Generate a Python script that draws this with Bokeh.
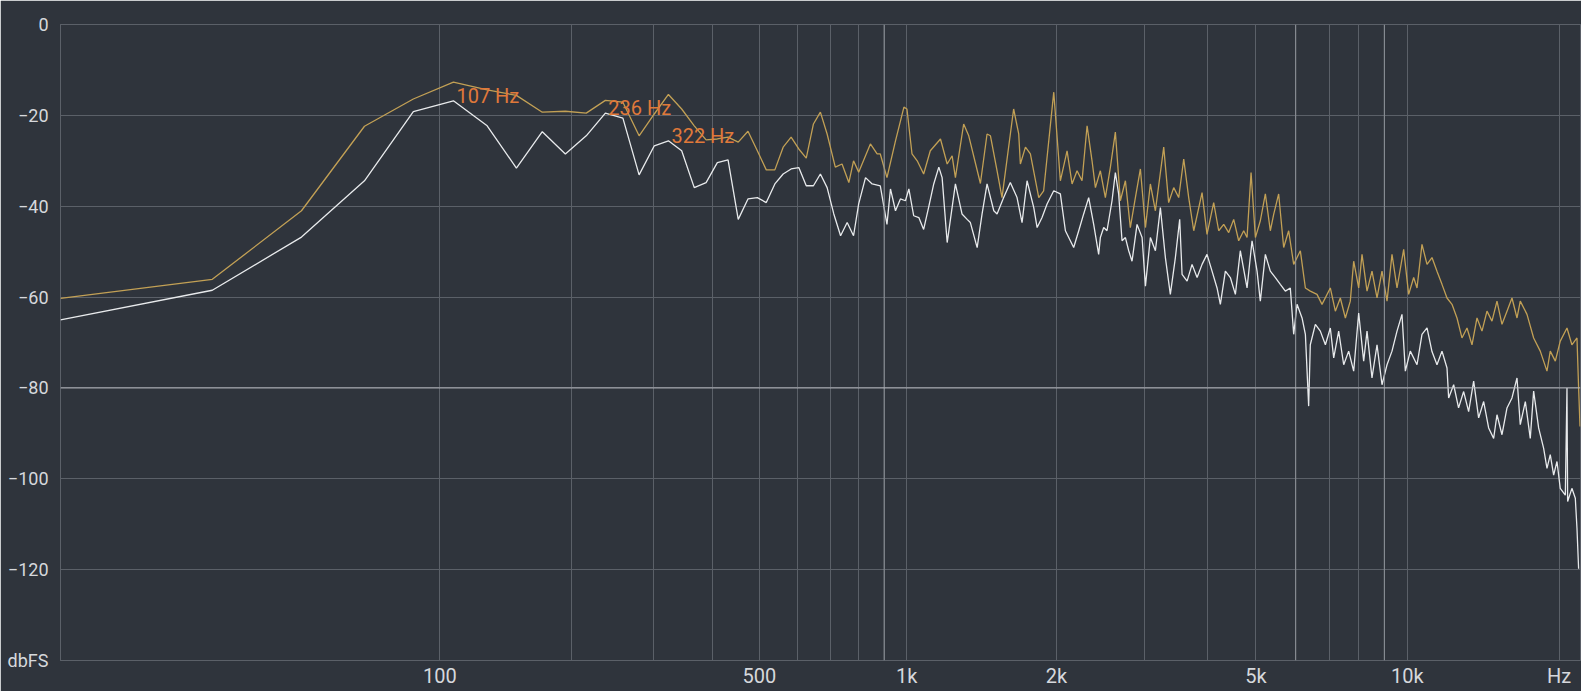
import numpy as np
from bokeh.plotting import figure
from bokeh.models import FixedTicker, CustomJSTickFormatter, Span, Range1d
from bokeh.core.properties import value
from bokeh.embed import file_html
from bokeh.resources import INLINE

# FFT bin width of the analyser (44.1 kHz, 2048-point FFT)
SAMPLE_RATE = 44100
FFT_SIZE = 2048
BIN_HZ = SAMPLE_RATE / FFT_SIZE
NYQUIST = SAMPLE_RATE / 2

# ---------------- data (Hz, dBFS) ----------------
gold_hz = [0, 21.5, 43.1, 64.6, 86.1, 107.7, 129.2, 150.7, 172.3, 193.8, 215.3, 236.9,
           258.4, 279.9, 301.5, 323.0, 344.5, 366.1, 387.6, 409.1, 430.7, 452.2, 473.7,
           495.3, 516.8, 538.3, 559.9, 581.4, 602.9, 624.5, 646.0, 667.5,
           689, 716, 739, 763, 780, 799, 844, 871, 884, 912, 949, 987, 1001, 1025, 1050,
           1082, 1116, 1170, 1207, 1235, 1254, 1303, 1334, 1408, 1452, 1475, 1521, 1556,
           1642, 1681, 1694, 1734, 1774, 1844, 1886, 1976, 2037, 2101, 2150, 2200, 2251,
           2304, 2357, 2394,
           2449, 2506, 2564, 2624, 2685, 2748, 2811, 2877, 2944, 3013, 3082, 3154, 3277,
           3352, 3431, 3510, 3592, 3675, 3761, 3907, 3997, 4121, 4217, 4315, 4415, 4517,
           4621, 4729, 4802, 4891, 4989, 5103, 5222, 5342, 5425, 5550, 5679, 5810, 5945,
           6129, 6272, 6415, 6615, 6768, 7030, 7194, 7359, 7531, 7703, 7823, 8004, 8127,
           8315, 8506, 8704, 8905, 9111, 9321, 9537, 9832, 10058, 10292, 10450, 10690,
           10939, 11190, 11449, 11713, 11985, 12261, 12545, 12833, 13131, 13434, 13745,
           14061, 14387, 14718, 15059, 15406, 15763, 16126, 16500, 16749, 17270, 17803,
           18350, 18921, 19207, 19655, 20104, 20730, 21200, 21698, 21862, 22000]
gold_db = [-60.3, -56.1, -41.0, -22.4, -16.4, -12.7, -14.4, -15.6, -19.3, -19.1, -19.5, -16.7,
           -17.1, -24.5, -19.7, -15.4, -18.6, -22.3, -25.4, -25.2, -24.8, -25.9, -23.5,
           -27.8, -32.0, -32.0, -27.0, -24.8, -27.4, -29.4, -21.9, -19.3,
           -24.1, -31.4, -30.7, -34.8, -30.0, -32.5, -26.3, -28.5, -28.5, -33.7, -25.6, -18.2,
           -18.6, -28.5, -30.0, -32.9, -27.8, -25.2, -30.7, -28.9, -33.7, -21.9, -24.5, -35.0,
           -24.1, -24.5, -32.2, -38.1, -18.6, -24.1, -30.7, -27.0, -28.5, -38.1, -36.6, -14.9,
           -34.4, -27.8, -35.1, -32.2, -34.4, -22.3, -30.0, -35.9,
           -32.2, -38.1, -31.5, -23.7, -38.8, -34.4, -44.7, -38.1, -31.8, -44.7, -35.1, -41.0,
           -27.0, -39.2, -35.9, -38.1, -29.6, -38.1, -45.4, -37.0, -46.2, -39.2, -45.4, -44.0,
           -45.8, -42.9, -47.6, -45.4, -46.9, -32.6, -46.9, -43.2, -37.3, -45.4, -41.8, -37.3,
           -49.1, -45.4, -52.8, -49.8, -58.0, -58.7, -59.4, -61.6, -58.0, -63.1, -60.2, -64.6,
           -60.9, -52.1, -58.0, -50.6, -58.7, -54.3, -60.2, -54.3, -60.9, -50.6, -58.0, -49.5,
           -59.4, -55.7, -58.0, -48.4, -52.8, -51.3, -54.3, -57.2, -60.2, -61.6, -64.6, -69.0,
           -66.8, -70.5, -64.6, -67.5, -63.1, -65.3, -60.9, -66.0, -63.1, -60.2, -64.6, -60.9,
           -63.8, -69.0, -71.9, -76.3, -71.9, -74.1, -69.7, -66.8, -70.5, -69.0, -80.0, -88.5]

white_hz = [0, 21.5, 43.1, 64.6, 86.1, 107.7, 129.2, 150.7, 172.3, 193.8, 215.3, 236.9,
            258.4, 279.9, 301.5, 323.0, 344.5, 366.1, 387.6, 409.1, 430.7, 452.2, 473.7,
            495.3, 516.8, 538.3, 559.9, 581.4, 602.9, 624.5, 646.0, 667.5,
            689, 711, 734, 757, 780, 799, 825, 851, 884, 912, 927, 949, 971, 994, 1010, 1033,
            1058, 1082, 1107, 1134, 1161, 1179, 1207, 1254, 1293, 1324, 1344, 1387, 1419,
            1452, 1498, 1521, 1568, 1617, 1668, 1707, 1747, 1802, 1830, 1872, 1916, 1976,
            2037, 2085, 2166, 2217, 2268, 2321, 2375, 2430,
            2449, 2487, 2525, 2584, 2624, 2664, 2706, 2748, 2790, 2833, 2899, 2967, 3013,
            3082, 3154, 3227, 3302, 3378, 3457, 3526, 3565, 3648, 3732, 3819, 3907, 3997,
            4090, 4185, 4249, 4348, 4448, 4552, 4656, 4802, 4913, 5027, 5103, 5222, 5342,
            5467, 5592, 5723, 5854, 5945, 6037, 6177, 6272, 6367, 6415, 6565, 6716, 6873,
            7030, 7140, 7304, 7474, 7646, 7823, 8004, 8189, 8315, 8506, 8704, 8905, 9111,
            9321, 9537, 9756, 9907, 10134, 10450, 10690, 10939, 11190, 11449, 11713,
            11985, 12075, 12355, 12635, 12932, 13230, 13537, 13848, 14170, 14496, 14831,
            15059, 15406, 15763, 16126, 16500, 16749, 17140, 17531, 17803, 18213, 18635,
            18921, 19207, 19506, 19805, 20104, 20573, 20730, 20793, 21200, 21534, 21698,
            21862]
white_db = [-65.0, -58.5, -46.8, -34.4, -19.2, -16.8, -22.3, -31.6, -23.6, -28.5, -24.5, -19.5,
            -20.6, -33.1, -26.7, -25.6, -27.8, -35.9, -34.8, -30.4, -29.8, -42.9, -38.4,
            -38.1, -39.2, -35.1, -32.9, -31.8, -31.5, -35.5, -35.5, -32.9,
            -35.9, -41.7, -46.5, -43.6, -46.5, -39.5, -33.7, -35.1, -35.5, -44.0, -36.2, -41.0,
            -38.4, -38.8, -36.2, -42.1, -42.5, -45.1, -40.3, -35.1, -31.4, -33.7, -48.0, -35.1,
            -41.7, -42.9, -43.6, -49.1, -41.7, -35.1, -41.0, -41.7, -38.1, -34.8, -38.1, -43.6,
            -34.4, -40.3, -44.7, -42.5, -39.5, -36.6, -37.3, -45.4, -49.1, -45.4, -41.7, -38.1,
            -44.0, -50.6,
            -46.9, -44.7, -45.4, -38.8, -32.6, -37.3, -47.6, -46.9, -49.8, -52.1, -44.0, -46.9,
            -57.6, -46.9, -49.8, -40.3, -51.3, -59.4, -51.3, -42.9, -55.0, -56.5, -52.8, -55.7,
            -52.8, -50.6, -54.3, -58.0, -61.6, -54.3, -55.7, -59.4, -49.8, -58.0, -47.6, -54.3,
            -60.9, -50.6, -54.3, -55.7, -57.2, -58.7, -58.0, -68.2, -61.6, -64.6, -68.2, -84.0,
            -70.5, -66.0, -67.5, -70.5, -66.8, -73.4, -67.5, -74.9, -71.9, -76.3, -63.5, -74.1,
            -67.5, -77.8, -70.5, -79.3, -74.9, -71.9, -67.5, -63.8, -76.3, -71.9, -74.9, -68.2,
            -66.8, -72.0, -74.9, -71.9,
            -75.6, -82.2, -79.3, -84.4, -80.8, -85.2, -78.5, -86.6, -83.0, -88.8, -91.1,
            -85.9, -90.3, -84.4, -82.2, -77.8, -88.1, -83.0, -91.1, -80.7, -88.8, -93.3,
            -97.7, -94.7, -99.2, -96.2, -102.1, -103.6, -80.0, -105.0, -102.1, -104.3, -110.9,
            -119.8]

peak_hz = [107.7, 236.9, 323.0]
peak_db = [-16.8, -19.5, -25.6]
peak_text = ["107 Hz", "236 Hz", "322 Hz"]

grid_hz = [100, 200, 300, 400, 500, 600, 700, 800, 900,
           1000, 2000, 3000, 4000, 5000, 6000, 7000, 8000, 9000, 10000, 20000]
bright_grid_hz = [900, 6000, 9000]
label_hz = [100, 500, 1000, 2000, 5000, 10000, 20000]
label_text = ["100", "500", "1k", "2k", "5k", "10k", "Hz"]
db_ticks = [0, -20, -40, -60, -80, -100, -120, -140]
bright_db = [-80]

# ---------------- styling ----------------
BG = "#2f343c"
GRID = "#5b6068"
BRIGHT = "#8f939a"
TXT = "#d6d8dc"
GOLD = "#c2a055"
WHITE = "#e8eaec"
ORANGE = "#e0793a"
FONT = "Roboto"


def warp(f):
    # analyser's frequency axis: logarithmic in (bin index + 1)
    return np.log10(np.asarray(f, dtype=float) / BIN_HZ + 1.0)


p = figure(width=1581, height=691, output_backend="svg", toolbar_location=None,
           x_range=Range1d(0, float(warp(NYQUIST))), y_range=Range1d(-140, 0),
           min_border_left=60, min_border_right=1, min_border_top=24, min_border_bottom=31,
           background_fill_color=BG, border_fill_color=BG,
           outline_line_color=GRID, outline_line_width=1)

# grid
p.xgrid.ticker = FixedTicker(ticks=[float(v) for v in warp(grid_hz)])
p.ygrid.ticker = FixedTicker(ticks=db_ticks)
p.xgrid.grid_line_color = GRID
p.ygrid.grid_line_color = GRID
p.xgrid.grid_line_width = 1
p.ygrid.grid_line_width = 1
for f in bright_grid_hz:
    p.add_layout(Span(location=float(warp(f)), dimension="height", line_color=BRIGHT, line_width=1))
for d in bright_db:
    p.add_layout(Span(location=d, dimension="width", line_color="#b4b7bc", line_width=1))

# axes
p.xaxis.ticker = FixedTicker(ticks=[float(v) for v in warp(label_hz)])
p.xaxis.formatter = CustomJSTickFormatter(args=dict(names=label_text), code="return names[index];")
p.yaxis.ticker = FixedTicker(ticks=db_ticks)
p.yaxis.major_label_overrides = {-140: "dbFS"}
for ax in (p.xaxis[0], p.yaxis[0]):
    ax.axis_line_color = None
    ax.major_tick_line_color = None
    ax.minor_tick_line_color = None
    ax.major_tick_out = 0
    ax.major_tick_in = 0
    ax.minor_tick_out = 0
    ax.major_label_text_color = TXT
    ax.major_label_text_font = FONT
p.xaxis.major_label_text_font_size = "20px"
p.yaxis.major_label_text_font_size = "18px"
p.xaxis.major_label_standoff = 3
p.yaxis.major_label_standoff = 12

# spectra
p.line(warp(gold_hz), gold_db, line_color=GOLD, line_width=1.3)
p.line(warp(white_hz), white_db, line_color=WHITE, line_width=1.3)

# peak labels
p.text(x=warp(peak_hz), y=peak_db, text=peak_text, text_color=ORANGE,
       text_font=value(FONT), text_font_size="20px", text_baseline="alphabetic",
       text_align="left", x_offset=3, y_offset=-5)

open("out.html", "w").write(file_html(p, INLINE))
